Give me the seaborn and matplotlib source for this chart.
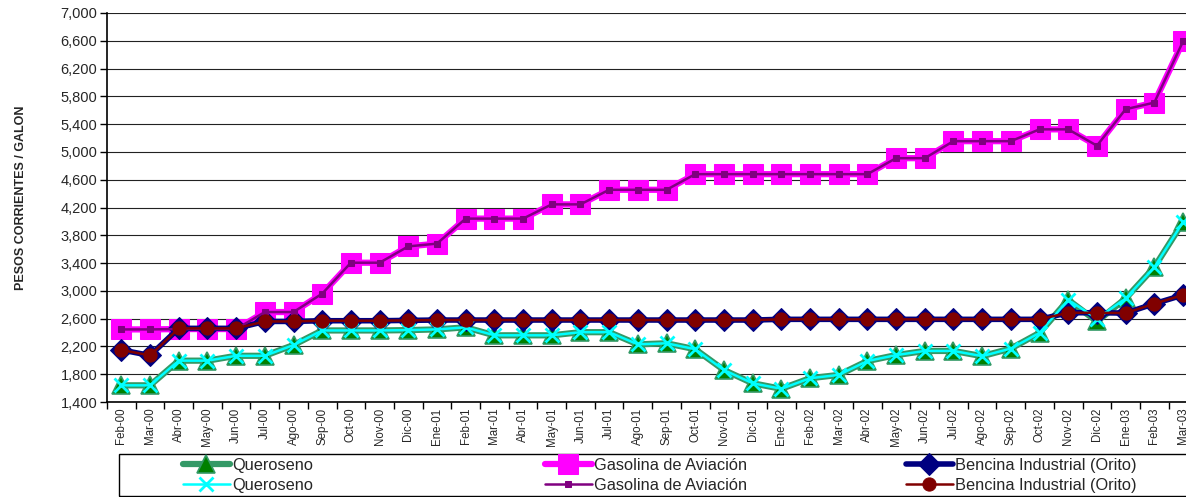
import numpy as np
import pandas as pd
import matplotlib
matplotlib.use("Agg")
import matplotlib.pyplot as plt
import seaborn as sns
from matplotlib.patches import Rectangle
from matplotlib.ticker import FuncFormatter, FixedLocator

# ---- data ----
meses = ['Feb-00', 'Mar-00', 'Abr-00', 'May-00', 'Jun-00', 'Jul-00', 'Ago-00', 'Sep-00', 'Oct-00', 'Nov-00', 'Dic-00',
         'Ene-01', 'Feb-01', 'Mar-01', 'Abr-01', 'May-01', 'Jun-01', 'Jul-01', 'Ago-01', 'Sep-01', 'Oct-01', 'Nov-01', 'Dic-01',
         'Ene-02', 'Feb-02', 'Mar-02', 'Abr-02', 'May-02', 'Jun-02', 'Jul-02', 'Ago-02', 'Sep-02', 'Oct-02', 'Nov-02', 'Dic-02',
         'Ene-03', 'Feb-03', 'Mar-03']

queroseno = [1640, 1640, 1995, 1995, 2065, 2065, 2220, 2430, 2430, 2430, 2435,
             2445, 2475, 2360, 2360, 2360, 2405, 2405, 2230, 2245, 2160, 1860, 1670,
             1590, 1742, 1790, 1990, 2075, 2135, 2135, 2060, 2170, 2395, 2870, 2560,
             2890, 3340, 3990]
queroseno_2 = [1640, 1640, 1995, 1995, 2065, 2065, 2220, 2430, 2430, 2430, 2435,
               2445, 2475, 2360, 2360, 2360, 2405, 2405, 2230, 2245, 2160, 1860, 1670,
               1590, 1742, 1790, 1990, 2075, 2135, 2135, 2060, 2170, 2395, 2870, 2600,
               2890, 3340, 3990]

gasolina = [2445, 2445, 2450, 2450, 2450, 2695, 2695, 2960, 3405, 3405, 3640,
            3680, 4040, 4040, 4040, 4245, 4245, 4455, 4455, 4455, 4680, 4680, 4680,
            4680, 4680, 4680, 4680, 4910, 4910, 5155, 5155, 5155, 5325, 5325, 5090,
            5615, 5710, 6590]

bencina = [2150, 2070, 2460, 2460, 2460, 2560, 2560, 2570, 2570, 2570, 2575,
           2580, 2580, 2580, 2580, 2580, 2580, 2580, 2580, 2580, 2580, 2580, 2580,
           2590, 2590, 2590, 2590, 2590, 2590, 2590, 2590, 2590, 2590, 2685, 2685,
           2680, 2815, 2940]

yticks = list(range(1400, 7001, 400))

# ---- figure ----
sns.set_style("white")
plt.rcParams['font.family'] = ['Liberation Sans', 'DejaVu Sans']

W, H = 1186, 497
fig = plt.figure(figsize=(W / 100, H / 100), dpi=100)
left, top, bottom = 107, 13, 402
step = (1183 - 121) / 37.0
right = 121 + 37 * step + step / 2
ax = fig.add_axes([left / W, 1 - bottom / H, (right - left) / W, (bottom - top) / H])

x = np.arange(len(meses))

# thick series first
sns.lineplot(x=x, y=queroseno, ax=ax, estimator=None, color='#339966', lw=4.5,
             marker='^', markersize=13, markerfacecolor='#008000', markeredgecolor='#339966',
             markeredgewidth=1.2, label='Queroseno')
sns.lineplot(x=x, y=gasolina, ax=ax, estimator=None, color='#FF00FF', lw=4.5,
             marker='s', markersize=14, markerfacecolor='#FF00FF', markeredgecolor='#FF00FF',
             label='Gasolina de Aviación')
sns.lineplot(x=x, y=bencina, ax=ax, estimator=None, color='#000080', lw=4,
             marker='D', markersize=11.5, markerfacecolor='#000080', markeredgecolor='#000080',
             label='Bencina Industrial (Orito)')
# thin series on top
sns.lineplot(x=x, y=queroseno_2, ax=ax, estimator=None, color='#00FFFF', lw=1.8,
             marker='x', markersize=10, markeredgewidth=2, markeredgecolor='#00FFFF',
             label='Queroseno')
sns.lineplot(x=x, y=gasolina, ax=ax, estimator=None, color='#800080', lw=1.8,
             marker='s', markersize=4, markerfacecolor='#800080', markeredgecolor='#800080',
             label='Gasolina de Aviación')
sns.lineplot(x=x, y=bencina, ax=ax, estimator=None, color='#800000', lw=1.8,
             marker='o', markersize=9.5, markerfacecolor='#800000', markeredgecolor='#800000',
             label='Bencina Industrial (Orito)')

handles, labels = ax.get_legend_handles_labels()
if ax.get_legend() is not None:
    ax.get_legend().remove()

ax.set_xlim(-0.5, len(meses) - 0.5)
ax.set_ylim(1400, 7000)
ax.set_yticks(yticks)
ax.yaxis.set_major_formatter(FuncFormatter(lambda v, p: f'{int(v):,}'))
ax.set_xticks(x)
ax.set_xticklabels(meses, rotation=90, fontsize=8.3)
ax.xaxis.set_minor_locator(FixedLocator(np.arange(-0.5, len(meses), 1)))
ax.tick_params(axis='x', which='major', length=0, pad=4)
ax.tick_params(axis='x', which='minor', length=5, width=1, direction='out', color='black')
ax.tick_params(axis='y', length=5, width=1, direction='out', color='black', labelsize=10.5, pad=2)
ax.yaxis.set_ticks_position('left')
ax.xaxis.set_ticks_position('bottom')

ax.grid(axis='y', color='#222222', lw=0.8)
ax.grid(axis='x', visible=False)
ax.set_axisbelow(True)
for s in ['top', 'right']:
    ax.spines[s].set_visible(False)
for s in ['left', 'bottom']:
    ax.spines[s].set_color('black')
    ax.spines[s].set_linewidth(1.2)
ax.set_xlabel('')
ax.set_ylabel('')

fig.text(21 / W, 1 - 198 / H, 'PESOS CORRIENTES / GALON', rotation=90, ha='center', va='center',
         fontsize=9, fontweight='bold')

# legend box and three two-row columns
fig.add_artist(Rectangle((119 / W, 1 / H), 1.2, (496 - 454) / H, transform=fig.transFigure,
                         fill=False, edgecolor='black', lw=1))
col_x = [183, 545, 906]
for i, cx in enumerate(col_x):
    fig.legend([handles[i], handles[i + 3]], [labels[i], labels[i + 3]],
               loc='center left', bbox_to_anchor=(cx / W, 1 - 475.5 / H),
               frameon=False, fontsize=11.8, handlelength=2.85, handletextpad=0.15,
               borderpad=0, borderaxespad=0, labelspacing=0.32, numpoints=1)

fig.savefig('out.png', dpi=100)
